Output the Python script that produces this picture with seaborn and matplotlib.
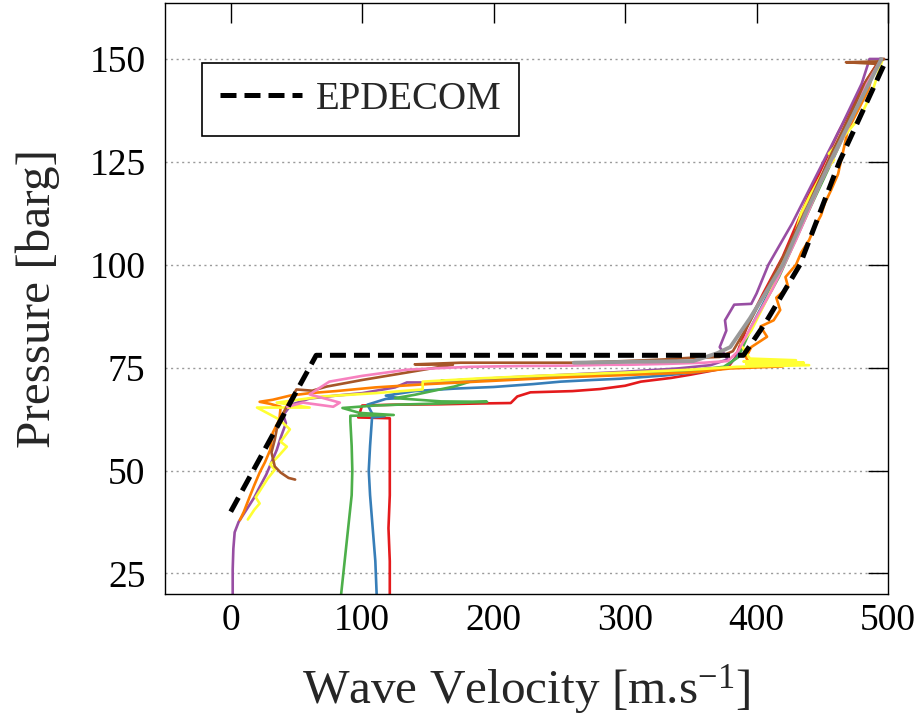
import matplotlib
matplotlib.use("Agg")
import matplotlib.pyplot as plt
import numpy as np
import pandas as pd
import seaborn as sns

# ---------------- data ----------------
run_names = ["r1", "r2", "r3", "r4", "r5", "r6", "r7", "r8", "r9"]

v_red = [121, 121, 120, 121, 121, 121, 121, 97, 100, 125, 160, 190, 213, 218, 228, 260, 281, 300, 312, 335, 350, 365, 378, 384, 394, 405, 420, 440, 462, 480, 494]
p_red = [20, 28, 36, 44, 52, 58, 62.7, 62.9, 65.8, 66.0, 66.1, 66.3, 66.4, 68.0, 69.0, 69.3, 69.8, 70.6, 71.6, 72.5, 73.3, 74.2, 75.0, 77.5, 86, 93, 102, 117, 132, 143, 150]

v_blue = [111, 110, 108, 106, 105, 106, 107.5, 117, 108, 104, 118, 128, 118, 140, 170, 200, 230, 251, 275, 296, 330, 357, 375, 385, 396, 414, 434, 456, 476, 494]
p_blue = [20, 28, 36, 44, 50, 56, 62.9, 63.2, 63.6, 66.0, 67.4, 67.6, 68.2, 69.3, 69.9, 70.3, 71.0, 71.6, 72.0, 72.3, 73.1, 74.0, 74.8, 77.5, 85, 96, 110, 126, 139, 150]

v_green = [84, 86, 88, 90, 92, 92.5, 92, 91, 91, 124, 98, 85, 110, 127, 160, 195, 160, 125, 140, 159, 170, 182, 160, 200, 250, 300, 350, 375, 386, 398, 417, 441, 466, 494]
p_green = [20, 26, 32, 38, 44, 50, 56, 62, 63.3, 63.5, 64.0, 65.2, 65.8, 66.0, 66.3, 66.7, 66.8, 67.6, 68.4, 69.7, 70.4, 71.6, 71.8, 72.2, 72.8, 73.4, 74.3, 75.2, 77.5, 86, 97, 114, 131, 150]

v_purple = [1.5, 1.5, 2, 3, 6, 9, 14, 18, 22, 27, 31, 35, 38, 42, 40, 46, 60, 80, 100, 125, 134, 149, 175, 210, 250, 300, 340, 365, 378, 372, 377, 376, 383, 396, 400, 409, 427, 446, 465, 480, 485, 486, 497]
p_purple = [20, 26, 31, 35, 37.5, 39, 41.5, 43.5, 46, 49, 52, 55, 58, 61.5, 63.5, 66, 67.5, 68.2, 68.8, 70.2, 71.4, 71.4, 72, 72.6, 73.2, 74, 74.8, 75.6, 77, 80, 84, 86.5, 90.3, 90.5, 93, 100, 110, 122, 134, 144, 149, 150, 150]

v_orange = [7, 10, 14.5, 18, 22, 26, 30, 32, 37, 38, 30, 22, 32, 45, 60, 80, 110, 150, 200, 250, 300, 350, 380, 420, 395, 392, 396, 408, 403, 413, 418, 415, 424, 422, 430, 434, 440, 444, 449, 452, 456.5, 462, 469.5, 478, 485, 489, 496]
p_orange = [38, 40, 43.7, 46.5, 49.5, 52, 55, 59.2, 62.4, 65.5, 66.2, 66.7, 67.2, 68.2, 68.8, 69.3, 70.2, 71, 71.8, 72.6, 73.2, 73.8, 74.8, 75.3, 75.8, 77.5, 80, 82.5, 85, 86.5, 89, 92, 94.6, 97, 100, 103, 106, 109, 112, 115, 118, 122, 132.8, 138, 142.5, 147.3, 150]

v_yellow = [13, 18, 22, 19, 24, 28, 33.5, 30, 36, 42.7, 38, 45, 40, 37, 20, 60, 35, 70, 110, 146, 146, 190, 240, 300, 350, 385, 440, 392, 436, 390, 430, 395, 388, 396, 405, 413, 421, 428, 434, 441, 448, 459, 455, 466, 479, 488, 496]
p_yellow = [38.1, 40.5, 42, 43.5, 46, 48, 50.2, 51.5, 53.4, 55.8, 57, 60, 61.5, 62.4, 65.3, 65.3, 66.5, 68, 68.8, 69.7, 71.6, 72.4, 73.1, 73.8, 74.5, 75.2, 75.6, 75.9, 76.2, 76.5, 76.8, 77.2, 80.6, 84, 89.8, 95, 101, 106, 112.6, 117, 121, 125.5, 127, 131, 136, 142, 150]

v_brown = [49, 44, 38, 33.5, 31, 33.5, 35, 37, 40, 45, 50, 62, 73, 100, 130, 169, 140, 175, 220, 262, 300, 330, 350, 357, 372, 382, 393, 406, 422, 440, 457, 472, 484, 492, 468, 493, 497]
p_brown = [47.8, 48.2, 49.5, 51, 54.4, 57.5, 60, 62.4, 64, 67, 69.7, 69.4, 70.4, 72, 73.6, 75.7, 75.8, 76.2, 76.2, 76.2, 76.6, 77, 77.4, 77.4, 77.6, 79, 85, 93, 103, 115, 127, 137, 145, 148.8, 149.2, 149.4, 150]

v_pink = [43, 55, 78, 83, 60, 75, 100, 134, 160, 182, 220, 260, 287, 302, 330, 360, 378, 386, 396, 412, 430, 449, 469, 484, 495]
p_pink = [65.5, 66.5, 65.5, 66.5, 68.5, 71.6, 73, 74.5, 74.9, 75.2, 75.4, 75.5, 75.7, 75.7, 75.9, 76.2, 76.6, 79, 85, 94, 106, 120, 133, 144, 150]

v_gray = [261, 300, 352, 370, 380, 395, 420, 438, 456, 476, 495]
p_gray = [76.2, 76.4, 76.6, 78.5, 80, 87, 100, 113, 125, 138, 150]

v_ep = [0, 65, 390, 407, 433, 463, 499]
p_ep = [40, 78, 78, 86, 100, 125, 150]

x_ticks = [0, 100, 200, 300, 400, 500]
y_ticks = [25, 50, 75, 100, 125, 150]

velocities = [v_red, v_blue, v_green, v_purple, v_orange, v_yellow, v_brown, v_pink, v_gray]
pressures = [p_red, p_blue, p_green, p_purple, p_orange, p_yellow, p_brown, p_pink, p_gray]

# ---------------- style ----------------
sns.set_style("white")
plt.rcParams["font.family"] = ["Liberation Serif", "DejaVu Serif"]
plt.rcParams["mathtext.fontset"] = "custom"
plt.rcParams["mathtext.rm"] = "Liberation Serif"
plt.rcParams["mathtext.it"] = "Liberation Serif:italic"
plt.rcParams["mathtext.bf"] = "Liberation Serif:bold"

fig = plt.figure(figsize=(9.18, 7.23), dpi=100)
ax = fig.add_axes([165 / 918, 1 - 594 / 723, (888 - 165) / 918, (594 - 3) / 723])

frames = []
for name, v, p in zip(run_names, velocities, pressures):
    frames.append(pd.DataFrame({"run": name, "v": v, "p": p}))
df = pd.concat(frames, ignore_index=True)

palette = dict(zip(run_names, sns.color_palette("Set1", 9)))
sns.lineplot(data=df, x="v", y="p", hue="run", hue_order=run_names, palette=palette,
             sort=False, estimator=None, legend=False, linewidth=1.9, ax=ax)
ax.lines[8].set_linewidth(2.8)

ep_df = pd.DataFrame({"v": v_ep, "p": p_ep})
sns.lineplot(data=ep_df, x="v", y="p", sort=False, estimator=None, color="black",
             linewidth=3.6, label="EPDECOM", ax=ax)
ax.lines[-1].set_linestyle((0, (3.2, 1.6)))
ax.lines[-1].set_dash_capstyle("butt")

ax.set_xlim(-50, 500)
ax.set_ylim(20, 163.6)
ax.set_xticks(x_ticks)
ax.set_yticks(y_ticks)
ax.set_xticklabels([str(t) for t in x_ticks])
ax.set_yticklabels([str(t) for t in y_ticks])

ax.tick_params(direction="in", length=14.4, width=1.0, top=True, right=True,
               labelsize=27, colors="black")
ax.tick_params(axis="y", pad=14)
ax.tick_params(axis="x", pad=7)
ax.yaxis.grid(True, color="#9a9a9a", linestyle=(0, (1.5, 2.5)), linewidth=1.0)
ax.xaxis.grid(False)
ax.set_axisbelow(True)
for s in ax.spines.values():
    s.set_color("black")
    s.set_linewidth(1.0)

ax.set_xlabel("Wave Velocity [m.s$^{-1}$]", fontsize=35.5)
ax.set_ylabel("Pressure [barg]", fontsize=35.5)
ax.xaxis.set_label_coords(0.5, -0.115)
ax.yaxis.set_label_coords(-0.145, 0.5)

leg = ax.legend(loc="upper left", bbox_to_anchor=(0.0512, 0.8985), borderaxespad=0,
                fontsize=28, frameon=True, fancybox=False, edgecolor="black",
                framealpha=1, handlelength=2.1, handletextpad=0.36, borderpad=0.46)
leg.get_frame().set_linewidth(1.2)

fig.savefig("out.png", dpi=100)
